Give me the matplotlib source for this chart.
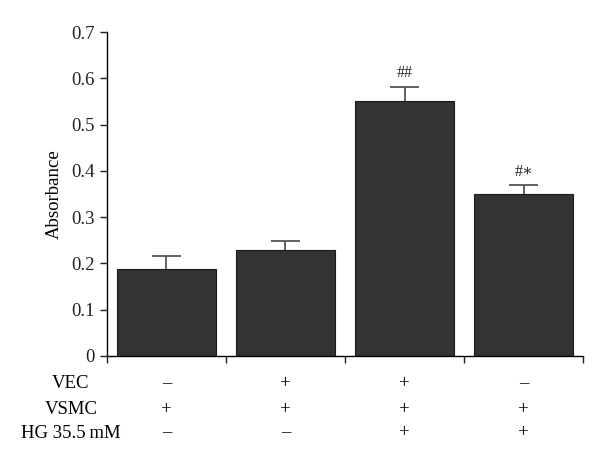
import numpy as np
import matplotlib
matplotlib.use("Agg")
import matplotlib.pyplot as plt

plt.rcParams["font.family"] = ["Liberation Serif", "DejaVu Serif"]

# data
groups = ["g1", "g2", "g3", "g4"]
absorbance = [0.187, 0.230, 0.551, 0.349]
err_up = [0.028, 0.019, 0.031, 0.020]
marks = ["", "", "##", "#\u2217"]
row_labels = ["VEC", "VSMC", "HG 35.5\u2009mM"]
row_signs = [
    ["\u2013", "+", "+", "\u2013"],
    ["+", "+", "+", "+"],
    ["\u2013", "\u2013", "+", "+"],
]

fig = plt.figure(figsize=(6.0, 4.55), dpi=100)
ax = fig.add_axes([0.178, 0.2176, 0.794, 0.712])

x = np.arange(len(groups))
tops = np.array(absorbance) + np.array(err_up)
ax.bar(x, absorbance, width=0.83, color="#333333", edgecolor="#1a1a1a", linewidth=0.8, zorder=2)
# upward-only error bars: stem + top cap
ax.vlines(x, absorbance, tops, color="#555555", linewidth=1.3, zorder=1)
ax.hlines(tops, x - 0.12, x + 0.12, color="#555555", linewidth=1.3, zorder=1)
for xi, t, m in zip(x, tops, marks):
    if m:
        ax.text(xi, t + 0.012, m, ha="center", va="bottom", fontsize=11.5, color="#222222")

ax.set_xlim(-0.5, 3.5)
ax.set_ylim(0, 0.7)
ax.set_yticks(np.arange(0, 0.71, 0.1))
ax.set_yticklabels(["0"] + [f"{t:.1f}" for t in np.arange(0.1, 0.71, 0.1)])
ax.set_xticks(np.arange(-0.5, 3.6, 1.0))
ax.set_xticklabels([])
ax.tick_params(axis="both", direction="out", length=5, width=1, labelsize=13.5, colors="#222222")
ax.set_ylabel("Absorbance", fontsize=13.5, labelpad=6)
for s in ["top", "right"]:
    ax.spines[s].set_visible(False)
for s in ["left", "bottom"]:
    ax.spines[s].set_linewidth(1)

# condition table under the axis
row_y = [384, 410, 433]
for lab, signs, py in zip(row_labels, row_signs, row_y):
    fy = 1 - py / 455
    fig.text(71 / 600, fy, lab, ha="center", va="center", fontsize=13.5)
    for xi, sg in zip(x, signs):
        fx = ax.transData.transform((xi, 0))[0] / fig.bbox.width
        fig.text(fx, fy, sg, ha="center", va="center", fontsize=13.5)

fig.savefig("out.png", dpi=100)
